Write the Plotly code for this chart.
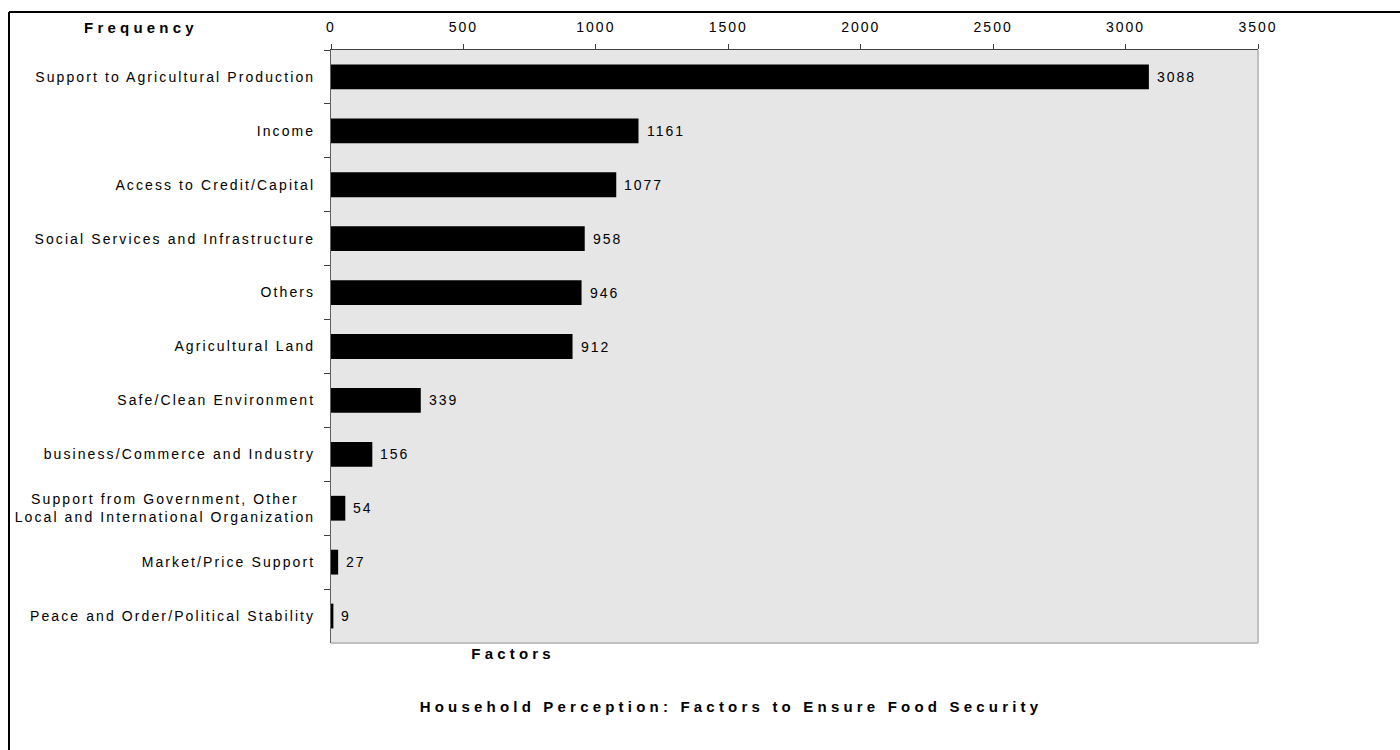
import plotly.graph_objects as go

categories = [
    "Support to Agricultural Production",
    "Income",
    "Access to Credit/Capital",
    "Social Services and Infrastructure",
    "Others",
    "Agricultural Land",
    "Safe/Clean Environment",
    "business/Commerce and Industry",
    "Support from Government, Other<br>Local and International Organization",
    "Market/Price Support",
    "Peace and Order/Political Stability",
]
values = [3088, 1161, 1077, 958, 946, 912, 339, 156, 54, 27, 9]
x_ticks = [0, 500, 1000, 1500, 2000, 2500, 3000, 3500]

FONT = "Liberation Sans, Arial, sans-serif"

L, R, T, B = 331, 1258, 50, 643
W, H = 1400, 750
pw, ph = R - L, B - T

def px(x):
    return (x - L) / pw

def py(y):
    return (B - y) / ph

fig = go.Figure(go.Bar(
    x=values,
    y=categories,
    orientation="h",
    marker=dict(color="black", line=dict(width=0)),
    width=0.46,
    hoverinfo="x+y",
))

value_labels = [
    dict(x=v, y=c, xref="x", yref="y", text=str(v), showarrow=False,
         xanchor="left", align="left", xshift=6, yanchor="middle",
         font=dict(family=FONT, size=14, color="black"))
    for v, c in zip(values, categories)
]

title_labels = [
    dict(text="Frequency", xref="paper", yref="paper", x=px(141), y=py(27),
         xanchor="center", yanchor="middle", showarrow=False,
         font=dict(family=FONT, size=15, color="black", weight="bold")),
    dict(text="Factors", xref="paper", yref="paper", x=px(513), y=py(654),
         xanchor="center", yanchor="middle", showarrow=False,
         font=dict(family=FONT, size=15, color="black", weight="bold")),
    dict(text="Household Perception: Factors to Ensure Food Security", xref="paper", yref="paper",
         x=px(731), y=py(706), xanchor="center", yanchor="middle", showarrow=False,
         font=dict(family=FONT, size=15, color="black", weight="bold")),
]

fig.update_layout(
    width=W, height=H,
    margin=dict(l=L, r=W - R, t=T, b=H - B),
    paper_bgcolor="white",
    plot_bgcolor="#e6e6e6",
    showlegend=False,
    font=dict(family=FONT, size=14, color="black"),
    xaxis=dict(
        side="top", range=[0, 3500], tickvals=x_ticks,
        ticks="outside", ticklen=5, tickcolor="#404040",
        showline=True, linecolor="#404040", linewidth=1,
        showgrid=False, zeroline=False,
        tickfont=dict(family=FONT, size=14, color="black"),
        ticklabelstandoff=6,
    ),
    yaxis=dict(
        autorange="reversed", categoryorder="array", categoryarray=categories,
        ticks="outside", ticklen=6, tickcolor="#404040", tickson="boundaries",
        showline=True, linecolor="#606060", linewidth=1,
        showgrid=False, zeroline=False,
        tickfont=dict(family=FONT, size=14, color="black"),
        ticklabelstandoff=12,
    ),
    shapes=[
        dict(type="line", xref="paper", yref="paper", x0=1, x1=1, y0=0, y1=1,
             line=dict(color="#c0c0c0", width=2)),
        dict(type="line", xref="paper", yref="paper", x0=0, x1=1, y0=0, y1=0,
             line=dict(color="#c0c0c0", width=2)),
        dict(type="line", xref="paper", yref="paper", x0=px(9), x1=px(9), y0=py(12), y1=py(752),
             line=dict(color="black", width=2)),
        dict(type="line", xref="paper", yref="paper", x0=px(9), x1=px(1402), y0=py(12), y1=py(12),
             line=dict(color="black", width=2)),
    ],
    annotations=value_labels + title_labels,
)

n = len(values)
css = (
    ".ytick text{letter-spacing:2.1px;}"
    ".xtick text{letter-spacing:2px;}"
    ".annotation .annotation-text{letter-spacing:2px;}"
    + "".join(
        '.annotation[data-index="%d"] .annotation-text{letter-spacing:4.2px;}' % i
        for i in range(n, n + len(title_labels))
    )
)
post_js = (
    "var st=document.createElement('style');"
    "st.textContent=%r;" % css
    + "document.head.appendChild(st);"
    "var gd=document.getElementById('{plot_id}');"
    "gd.querySelectorAll('.ytick text').forEach(function(t){"
    "var ls=t.querySelectorAll('tspan.line');"
    "if(ls.length==2){"
    "var w0=ls[0].getComputedTextLength(),w1=ls[1].getComputedTextLength();"
    "var x=parseFloat(ls[0].getAttribute('x'));"
    "ls[0].setAttribute('x',x-(w1-w0)/2);}"
    "});"
)

fig.write_html("out.html", post_script=post_js)
